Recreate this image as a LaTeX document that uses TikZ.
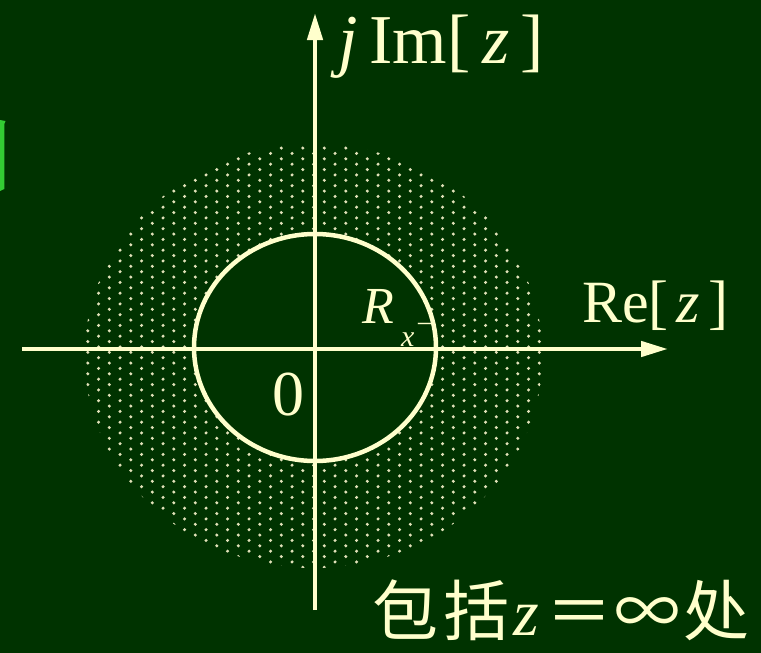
\documentclass[tikz,border=0pt]{standalone}
\usepackage{fontspec}
\setmainfont{Liberation Serif}
\newfontfamily\cjk{Noto Sans CJK SC}
\usetikzlibrary{arrows.meta}
\definecolor{bg}{RGB}{0,51,0}
\definecolor{ink}{RGB}{255,255,204}
\definecolor{dotc}{RGB}{225,225,185}
\definecolor{grn}{RGB}{51,204,51}
\begin{document}
\begin{tikzpicture}[x=1pt,y=-1pt,
  axis/.style={draw=ink,line width=4.5pt,-{Triangle[length=27pt,width=15pt]}},
  lbl/.style={text=ink,inner sep=0pt,anchor=base west},
  ringline/.style={draw=ink,line width=4.5pt}]
\fill[bg] (0,0) rectangle (761,653);
\useasboundingbox (0,0) rectangle (761,653);
% dotted region
\begin{scope}
  \clip (313.5,356) ellipse [x radius=229, y radius=212];
  \foreach \i in {-14,...,28} {
    \pgfmathtruncatemacro\p{mod(abs(\i),2)}
    \foreach \k in {-36,...,4} {
      \fill[dotc] ({238.3+10.75*\i},{524.3+5.375*(2*\k+\p)}) circle (1.7);
    }
  }
\end{scope}
\fill[bg] (315,347.5) ellipse [x radius=121, y radius=113.5];
\draw[ringline] (315,347.5) ellipse [x radius=121, y radius=113.5];
% axes
\coordinate (xl) at (22,349);
\coordinate (xr) at (668,349);
\coordinate (yb) at (315,610);
\coordinate (yt) at (315,13);
\draw[axis] (xl) -- (xr);
\draw[axis] (yb) -- (yt);
% labels
\node[lbl,font=\fontsize{70}{70}\selectfont] (im) at (338,63) {\textit{j}\,Im[\,\textit{z}\,]};
\node[lbl,font=\fontsize{60}{60}\selectfont] (re) at (582,322) {Re[\kern8pt\textit{z}\kern8pt]};
\node[lbl,font=\fontsize{52}{52}\selectfont] (r) at (362,323) {\textit{R}};
\node[lbl,font=\fontsize{30}{30}\selectfont] (rx) at (401,346) {\textit{x}};
\node[lbl,font=\fontsize{28}{28}\selectfont] (rm) at (418,330) {–};
\node[lbl,font=\fontsize{64}{64}\selectfont] (zero) at (272,415) {0};
\node[lbl,font=\fontsize{66}{66}\selectfont] (note) at (372,635) {{\cjk 包}\kern5pt{\cjk 括}\kern4pt\textit{z}\kern8pt{\cjk ＝}\kern2pt{\cjk ∞}\kern3pt{\cjk 处}};
% cut-off green glyph at left edge
\fill[grn] (0,120) -- (5.5,121) -- (4.3,124) -- (4.3,189) -- (0,191) -- cycle;
\end{tikzpicture}
\end{document}
